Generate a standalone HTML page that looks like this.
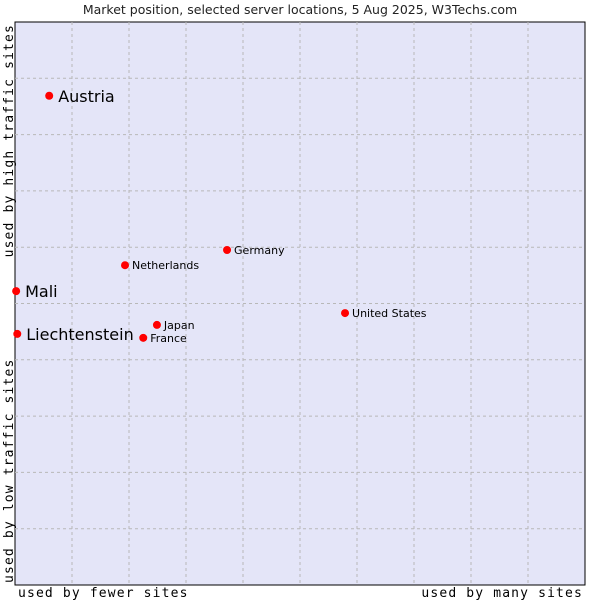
<!DOCTYPE html>
<html><head><meta charset="utf-8"><style>
body{margin:0;background:#fff;}
svg{display:block;}
</style></head><body>
<svg id="chart" width="600" height="600" xmlns="http://www.w3.org/2000/svg">
<text x="300" y="14" text-anchor="middle" font-family="DejaVu Sans, sans-serif" font-size="12.5" fill="#222">Market position, selected server locations, 5 Aug 2025, W3Techs.com</text>
<rect x="15" y="22" width="570" height="563" fill="#e4e5f8" stroke="#000" stroke-width="1"/>
<g id="grid"></g>
<g id="points"></g>
<text x="18" y="597" font-family="DejaVu Sans Mono, monospace" font-size="13" letter-spacing="1.15" fill="#000">used by fewer sites</text>
<text x="583" y="597" text-anchor="end" font-family="DejaVu Sans Mono, monospace" font-size="13" letter-spacing="1.15" fill="#000">used by many sites</text>
<text transform="translate(13,583) rotate(-90)" font-family="DejaVu Sans Mono, monospace" font-size="13" letter-spacing="1.15" fill="#000">used by low traffic sites</text>
<text transform="translate(13,24) rotate(-90)" text-anchor="end" font-family="DejaVu Sans Mono, monospace" font-size="13" letter-spacing="1.15" fill="#000">used by high traffic sites</text>
</svg>
<script>
const names = ["Austria","Mali","Liechtenstein","Netherlands","Germany","Japan","France","United States"];
const xValues = [6.0,0.2,0.4,19.3,37.2,24.9,22.5,57.9];
const yValues = [86.9,52.2,44.6,56.8,59.5,46.2,43.9,48.3];
const highlighted = [true,true,true,false,false,false,false,false];
const L=15,R=585,T=22,B=585;
const sx=v=>L+v/100*(R-L);
const sy=v=>B-v/100*(B-T);
const NS="http://www.w3.org/2000/svg";
const grid=document.getElementById('grid');
for(let i=1;i<10;i++){
  const x=L+i*(R-L)/10;
  const l=document.createElementNS(NS,'line');
  
  
  l.setAttribute('x1',x);l.setAttribute('x2',x);l.setAttribute('y1',T);l.setAttribute('y2',B);
  l.setAttribute('stroke','#b8b8b8');l.setAttribute('stroke-dasharray','3,3');
  grid.appendChild(l);
  const y=T+i*(B-T)/10;
  const h=document.createElementNS(NS,'line');
  
  
  h.setAttribute('x1',L);h.setAttribute('x2',R);h.setAttribute('y1',y);h.setAttribute('y2',y);
  h.setAttribute('stroke','#b8b8b8');h.setAttribute('stroke-dasharray','3,3');
  grid.appendChild(h);
}
const pts=document.getElementById('points');
names.forEach((n,i)=>{
  const x=sx(xValues[i]),y=sy(yValues[i]);
  const c=document.createElementNS(NS,'circle');
  
  
  c.setAttribute('cx',x);c.setAttribute('cy',y);c.setAttribute('r',4);c.setAttribute('fill','#ff0000');
  pts.appendChild(c);
  const t=document.createElementNS(NS,'text');
  
  
  const big=highlighted[i];
  t.setAttribute('x',x+(big?9:7));t.setAttribute('y',y+(big?6:4));
  t.setAttribute('font-family','DejaVu Sans, sans-serif');
  t.setAttribute('font-size',big?16:11);
  t.setAttribute('fill','#000');
  t.textContent=n;
  pts.appendChild(t);
});
</script>
</body></html>
